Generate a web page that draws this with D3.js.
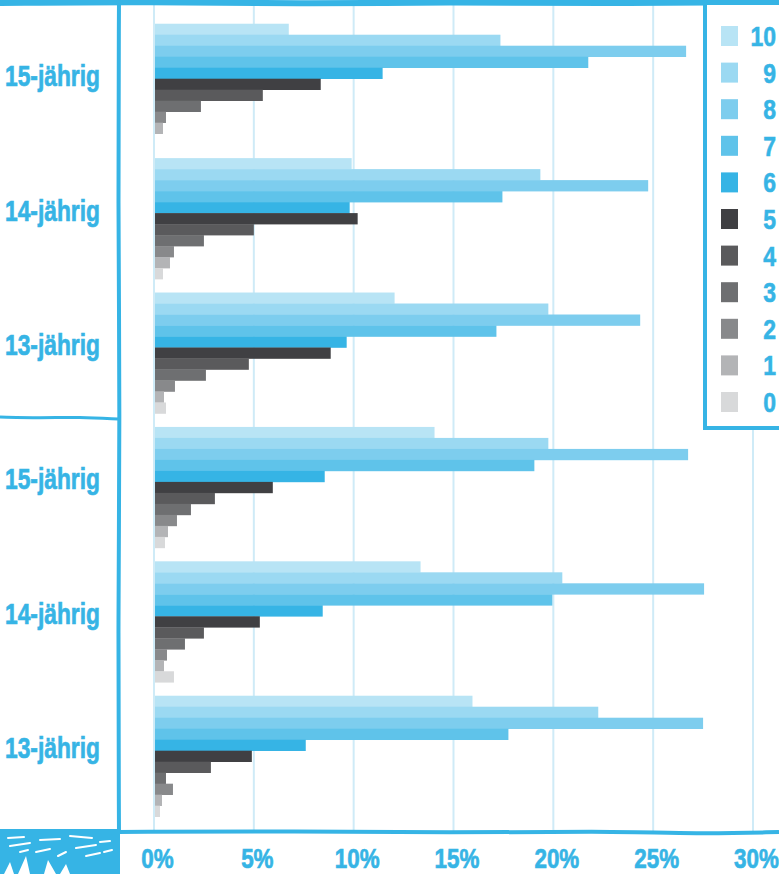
<!DOCTYPE html>
<html>
<head>
<meta charset="utf-8">
<script src="https://cdn.jsdelivr.net/npm/d3@7"></script>
<style>
  html, body { margin: 0; padding: 0; background: #fff; }
  svg { display: block; }
  text { font-family: 'Liberation Sans', Arial, sans-serif; font-weight: bold; }
</style>
</head>
<body>
<div id="chart"></div>
<script>
const WIDTH = 779;
const HEIGHT = 874;

// groups top to bottom
const groupIds = ['a15', 'a14', 'a13', 'b15', 'b14', 'b13'];
const groupLabels = ['15-jährig', '14-jährig', '13-jährig', '15-jährig', '14-jährig', '13-jährig'];

// score levels, drawn top (10) to bottom (0)
const levels = ['10', '9', '8', '7', '6', '5', '4', '3', '2', '1', '0'];

// share in % per level 10..0
const valA15 = [6.7, 17.3, 26.6, 21.7, 11.4, 8.3, 5.4, 2.3, 0.55, 0.4, 0];
const valA14 = [9.85, 19.3, 24.7, 17.4, 9.75, 10.15, 4.95, 2.45, 0.95, 0.75, 0.4];
const valA13 = [12.0, 19.7, 24.3, 17.1, 9.6, 8.8, 4.7, 2.55, 1.0, 0.45, 0.55];
const valB15 = [14.0, 19.7, 26.7, 19.0, 8.5, 5.9, 3.0, 1.8, 1.1, 0.65, 0.5];
const valB14 = [13.3, 20.4, 27.5, 19.9, 8.4, 5.25, 2.45, 1.5, 0.6, 0.45, 0.95];
const valB13 = [15.9, 22.2, 27.45, 17.7, 7.55, 4.85, 2.8, 0.55, 0.9, 0.35, 0.25];

const xTicks = [0, 5, 10, 15, 20, 25, 30];

const levelColors = ['#b8e4f5', '#9bd9f2', '#7dcdee', '#5fc3ea', '#36b4e5',
  '#404043', '#5a5a5c', '#6e6f71', '#88898b', '#b3b4b6', '#d8d9da'];

const BLUE = '#36b4e5';
const GRID = '#cfebf7';

const series = [valA15, valA14, valA13, valB15, valB14, valB13];
const rows = [];
series.forEach((vals, gi) => {
  vals.forEach((v, li) => rows.push({ group: groupIds[gi], level: levels[li], value: v }));
});

const x = d3.scaleLinear().domain([0, 30]).range([154, 753]);
const y = d3.scaleBand().domain(groupIds).range([17, 823.4]).paddingInner(0.1).paddingOuter(0.05);
const yInner = d3.scaleBand().domain(levels).range([0, y.bandwidth()]);
const color = d3.scaleOrdinal().domain(levels).range(levelColors);

const svg = d3.select('#chart').append('svg')
  .attr('width', WIDTH)
  .attr('height', HEIGHT);

// hand drawn looking strokes
const sketch = d3.line().curve(d3.curveBasis);

// grid
svg.append('g').attr('class', 'grid')
  .selectAll('line')
  .data(xTicks)
  .enter()
  .append('line')
  .attr('x1', d => x(d)).attr('x2', d => x(d))
  .attr('y1', 4).attr('y2', 832)
  .attr('stroke', GRID)
  .attr('stroke-width', 2);

// bars
svg.append('g').attr('class', 'bars')
  .selectAll('rect')
  .data(rows)
  .enter()
  .append('rect')
  .attr('x', x(0) + 1)
  .attr('y', d => y(d.group) + yInner(d.level))
  .attr('width', d => Math.max(0, x(d.value) - x(0)))
  .attr('height', yInner.bandwidth() + 0.3)
  .attr('fill', d => color(d.level));

// group labels (condensed look)
svg.append('g').attr('class', 'ylabels')
  .selectAll('text')
  .data(groupIds)
  .enter()
  .append('text')
  .attr('transform', d => `translate(5,${y(d) + y.bandwidth() / 2 + 2}) scale(0.76,1)`)
  .attr('fill', BLUE)
  .attr('stroke', BLUE)
  .attr('stroke-width', 0.7)
  .attr('font-size', 30)
  .text((d, i) => groupLabels[i]);

// x axis
const xAxis = d3.axisBottom(x).tickValues(xTicks).tickSize(0).tickPadding(0).tickFormat(d => d + '%');
const ax = svg.append('g').attr('transform', 'translate(3,868)').call(xAxis);
ax.select('.domain').remove();
ax.selectAll('text')
  .attr('fill', BLUE)
  .attr('stroke', BLUE)
  .attr('stroke-width', 0.7)
  .attr('font-size', 28)
  .attr('font-family', null)
  .attr('dy', 0)
  .attr('y', 0)
  .attr('transform', 'scale(0.8,1)');

// frame lines
svg.append('path')
  .attr('d', sketch([[0, 3], [150, 1.5], [300, 4], [450, 2], [600, 3.5], [779, 2]]))
  .attr('fill', 'none').attr('stroke', BLUE).attr('stroke-width', 6);
svg.append('path')
  .attr('d', sketch([[119, 0], [118, 200], [120, 418], [118, 620], [119, 834]]))
  .attr('fill', 'none').attr('stroke', BLUE).attr('stroke-width', 4);
svg.append('path')
  .attr('d', sketch([[0, 417], [40, 418], [80, 417], [118, 419]]))
  .attr('fill', 'none').attr('stroke', BLUE).attr('stroke-width', 3);
svg.append('path')
  .attr('d', sketch([[118, 832], [300, 831], [450, 833], [600, 831], [700, 834], [779, 832]]))
  .attr('fill', 'none').attr('stroke', BLUE).attr('stroke-width', 4);

// scribble block bottom left
svg.append('rect')
  .attr('x', 0).attr('y', 829).attr('width', 120).attr('height', 45)
  .attr('fill', BLUE);
const scratches = [
  [[8, 838], [24, 837]], [[40, 840], [60, 839]], [[70, 836], [92, 838]],
  [[10, 846], [30, 843]], [[36, 852], [50, 849]], [[76, 848], [96, 845]],
  [[100, 842], [110, 841]], [[58, 856], [66, 852]], [[86, 856], [100, 853]],
  [[20, 852], [28, 850]], [[104, 852], [112, 850]]
];
svg.append('g').selectAll('path')
  .data(scratches)
  .enter()
  .append('path')
  .attr('d', d => sketch(d))
  .attr('stroke', '#fff').attr('stroke-width', 2).attr('stroke-linecap', 'round').attr('fill', 'none');
svg.append('path')
  .attr('d', 'M4,874 L10,862 L14,874 Z M18,874 L26,856 L30,874 Z M44,874 L48,860 L56,874 Z M60,874 L66,864 L70,874 Z')
  .attr('fill', '#fff');

// legend
const legend = svg.append('g').attr('class', 'legend');
legend.append('rect')
  .attr('x', 705).attr('y', 5).attr('width', 80).attr('height', 423)
  .attr('fill', '#fff');
legend.append('path')
  .attr('d', 'M705,3 L705,428 L779,428')
  .attr('fill', 'none').attr('stroke', BLUE).attr('stroke-width', 4);

const ly = d3.scaleBand().domain(levels).range([26, 26 + 36.6 * 11]);
const item = legend.selectAll('g.item')
  .data(levels)
  .enter()
  .append('g')
  .attr('class', 'item')
  .attr('transform', d => `translate(0,${ly(d)})`);
item.append('rect')
  .attr('x', 721).attr('width', 17).attr('height', 20)
  .attr('fill', d => color(d));
item.append('text')
  .attr('transform', 'translate(776,20) scale(0.82,1)')
  .attr('text-anchor', 'end')
  .attr('fill', BLUE)
  .attr('stroke', BLUE)
  .attr('stroke-width', 0.6)
  .attr('font-size', 28)
  .text(d => d);
</script>
</body>
</html>
